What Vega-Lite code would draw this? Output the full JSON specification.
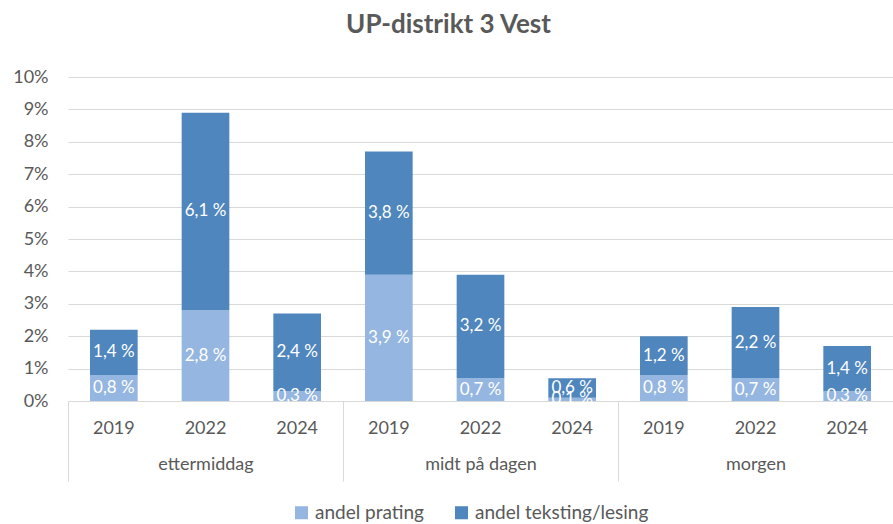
{
  "$schema": "https://vega.github.io/schema/vega-lite/v6.json",
  "width": 825,
  "height": 324,
  "autosize": {"type": "none"},
  "padding": {"left": 68, "top": 77, "right": 0, "bottom": 123},
  "background": "white",
  "title": {
    "text": "UP-distrikt 3 Vest",
    "font": "Lato",
    "fontSize": 26,
    "fontWeight": "bold",
    "color": "#595959",
    "anchor": "middle",
    "dx": -32,
    "offset": 30
  },
  "config": {
    "view": {"stroke": null},
    "font": "Lato",
    "axisY": {
      "title": null,
      "values": [0, 1, 2, 3, 4, 5, 6, 7, 8, 9, 10],
      "tickCount": 10,
      "labelExpr": "datum.value + '%'",
      "labelOverlap": false,
      "domain": false,
      "ticks": false,
      "gridColor": "#D9D9D9",
      "labelFontSize": 18,
      "labelColor": "#595959",
      "labelFont": "Lato",
      "labelPadding": 20
    }
  },
  "data": {
    "values": [
      {"period": "ettermiddag", "year": "2019", "series": "andel prating", "value": 0.8},
      {"period": "ettermiddag", "year": "2019", "series": "andel teksting/lesing", "value": 1.4},
      {"period": "ettermiddag", "year": "2022", "series": "andel prating", "value": 2.8},
      {"period": "ettermiddag", "year": "2022", "series": "andel teksting/lesing", "value": 6.1},
      {"period": "ettermiddag", "year": "2024", "series": "andel prating", "value": 0.3},
      {"period": "ettermiddag", "year": "2024", "series": "andel teksting/lesing", "value": 2.4},
      {"period": "midt på dagen", "year": "2019", "series": "andel prating", "value": 3.9},
      {"period": "midt på dagen", "year": "2019", "series": "andel teksting/lesing", "value": 3.8},
      {"period": "midt på dagen", "year": "2022", "series": "andel prating", "value": 0.7},
      {"period": "midt på dagen", "year": "2022", "series": "andel teksting/lesing", "value": 3.2},
      {"period": "midt på dagen", "year": "2024", "series": "andel prating", "value": 0.1},
      {"period": "midt på dagen", "year": "2024", "series": "andel teksting/lesing", "value": 0.6},
      {"period": "morgen", "year": "2019", "series": "andel prating", "value": 0.8},
      {"period": "morgen", "year": "2019", "series": "andel teksting/lesing", "value": 1.2},
      {"period": "morgen", "year": "2022", "series": "andel prating", "value": 0.7},
      {"period": "morgen", "year": "2022", "series": "andel teksting/lesing", "value": 2.2},
      {"period": "morgen", "year": "2024", "series": "andel prating", "value": 0.3},
      {"period": "morgen", "year": "2024", "series": "andel teksting/lesing", "value": 1.4}
    ]
  },
  "transform": [
    {"stack": "value", "groupby": ["period", "year"], "sort": [{"field": "series", "order": "ascending"}], "as": ["v0", "v1"]},
    {"calculate": "(datum.v0 + datum.v1) / 2", "as": "mid"},
    {"calculate": "replace(format(datum.value, '.1f'), '.', ',') + ' %'", "as": "label"}
  ],
  "encoding": {
    "x": {
      "field": "period",
      "type": "nominal",
      "sort": ["ettermiddag", "midt på dagen", "morgen"],
      "scale": {"paddingInner": 0, "paddingOuter": 0},
      "axis": {
        "title": null,
        "domainColor": "#D9D9D9",
        "tickColor": "#D9D9D9",
        "tickBand": "extent",
        "tickExtra": true,
        "tickSize": 80,
        "labelPadding": -26,
        "labelAngle": 0,
        "labelFontSize": 18,
        "labelColor": "#595959",
        "labelFont": "Lato",
        "grid": false
      }
    },
    "xOffset": {
      "field": "year",
      "type": "nominal",
      "sort": ["2019", "2022", "2024"],
      "scale": {"paddingInner": 0.48, "paddingOuter": 0.24}
    }
  },
  "layer": [
    {
      "mark": {"type": "bar"},
      "encoding": {
        "y": {
          "field": "v0",
          "type": "quantitative",
          "scale": {"domain": [0, 10], "nice": false}
        },
        "y2": {"field": "v1"},
        "color": {
          "field": "series",
          "type": "nominal",
          "scale": {"domain": ["andel prating", "andel teksting/lesing"], "range": ["#95B6E0", "#4F86BE"]},
          "legend": {
            "title": null,
            "orient": "none",
            "direction": "horizontal",
            "legendX": 224,
            "legendY": 426,
            "padding": 0,
            "symbolType": "square",
            "symbolSize": 170,
            "symbolStrokeWidth": 0,
            "labelFontSize": 19,
            "labelColor": "#595959",
            "labelFont": "Lato",
            "labelLimit": 400,
            "columnPadding": 28,
            "labelOffset": 4
          }
        }
      }
    },
    {
      "mark": {"type": "text", "color": "white", "fontSize": 17, "font": "Lato", "baseline": "middle"},
      "encoding": {
        "y": {"field": "mid", "type": "quantitative"},
        "text": {"field": "label"}
      }
    },
    {
      "transform": [{"filter": "datum.series == 'andel prating'"}],
      "mark": {"type": "text", "color": "#595959", "fontSize": 18, "font": "Lato", "baseline": "middle"},
      "encoding": {
        "y": {"datum": -0.85, "type": "quantitative"},
        "text": {"field": "year"}
      }
    }
  ]
}
